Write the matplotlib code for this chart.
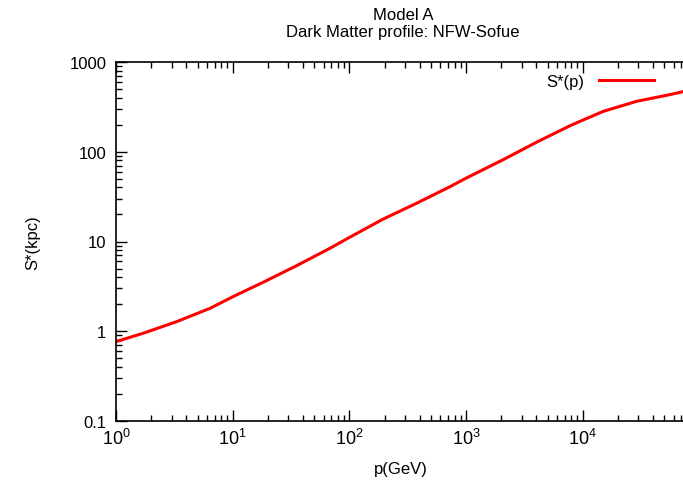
import matplotlib.pyplot as plt
from matplotlib.ticker import LogLocator, NullFormatter, FixedLocator, FixedFormatter

plt.rcParams['font.family'] = ['Liberation Sans', 'DejaVu Sans']
plt.rcParams['font.size'] = 12
plt.rcParams['mathtext.fontset'] = 'custom'
plt.rcParams['mathtext.rm'] = 'Liberation Sans'
plt.rcParams['mathtext.it'] = 'Liberation Sans'

# values
p = [1.0, 1.71, 3.31, 6.39, 10.0, 18.3, 35.3, 68.2, 100, 195, 377,
     728, 1000, 2083, 4030, 7770, 10000, 15000, 28950, 55850, 72600]
S = [0.766, 0.95, 1.28, 1.80, 2.42, 3.52, 5.38, 8.41, 11.1, 17.8, 26.7,
     40.8, 50.8, 81.7, 128, 195, 225, 282, 365, 433, 468]

xticks = [1, 10, 100, 1000, 10000]
xtick_labels = [r"$\mathrm{10^{0}}$", r"$\mathrm{10^{1}}$", r"$\mathrm{10^{2}}$",
                r"$\mathrm{10^{3}}$", r"$\mathrm{10^{4}}$"]
yticks = [0.1, 1, 10, 100, 1000]
ytick_labels = ["0.1", "1", "10", "100", "1000"]

fig = plt.figure(figsize=(6.83, 4.89), dpi=100)
W, H = 683, 489
left, right, top, bottom = 116, 699.5, 63, 422
ax = fig.add_axes([left / W, 1 - bottom / H, (right - left) / W, (bottom - top) / H])

ax.plot(p, S, color='#ff0000', lw=2.2, label="S*(p)", solid_joinstyle='round')

ax.set_xscale('log')
ax.set_yscale('log')
ax.set_xlim(1, 1e5)
ax.set_ylim(0.1, 1000)

ax.xaxis.set_major_locator(FixedLocator(xticks))
ax.xaxis.set_major_formatter(FixedFormatter(xtick_labels))
ax.xaxis.set_minor_locator(LogLocator(base=10, subs=range(2, 10), numticks=20))
ax.xaxis.set_minor_formatter(NullFormatter())
ax.yaxis.set_major_locator(FixedLocator(yticks))
ax.yaxis.set_major_formatter(FixedFormatter(ytick_labels))
ax.yaxis.set_minor_locator(LogLocator(base=10, subs=range(2, 10), numticks=20))
ax.yaxis.set_minor_formatter(NullFormatter())

ax.tick_params(which='both', direction='in', top=True, right=True, width=1, color='black')
ax.tick_params(which='major', length=8, pad=7)
ax.tick_params(which='minor', length=4.5)
ax.tick_params(axis='x', which='major', labelsize=13, pad=5)
for s in ax.spines.values():
    s.set_linewidth(1.2)

fig.text(401 / W, 1 - 470 / H, "p(GeV)", ha='center', va='center')
fig.text(33 / W, 1 - 243 / H, "S*(kpc)", ha='center', va='center', rotation=90)

fig.text(403 / W, 1 - 15 / H, "Model A", ha='center', va='center')
fig.text(403 / W, 1 - 33 / H, "Dark Matter profile: NFW-Sofue", ha='center', va='center')

leg = ax.legend(loc='upper right', frameon=False, markerfirst=False,
                handlelength=3.3, bbox_to_anchor=((666 - left) / (right - left), 1.0),
                borderaxespad=0.3, handletextpad=0.9)

fig.savefig("out.png", dpi=100)
